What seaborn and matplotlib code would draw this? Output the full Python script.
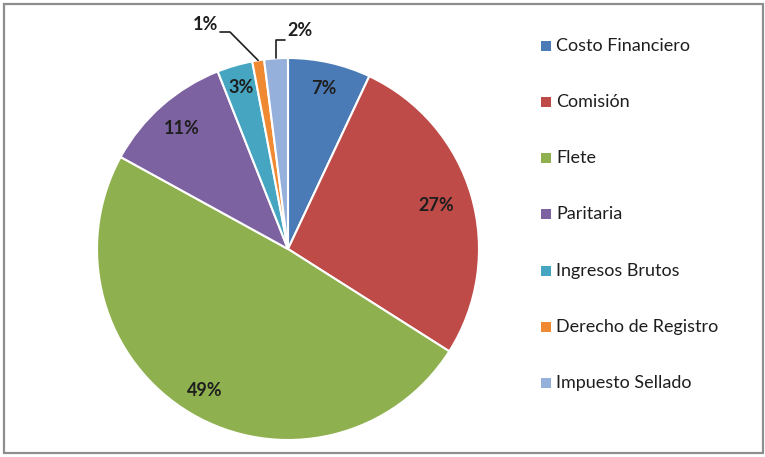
import numpy as np
import matplotlib
matplotlib.use("Agg")
import matplotlib.pyplot as plt
from matplotlib.patches import Rectangle
import seaborn as sns

# Cost breakdown shares (percent), clockwise from 12 o'clock
categories = ["Costo Financiero", "Comisión", "Flete", "Paritaria",
              "Ingresos Brutos", "Derecho de Registro", "Impuesto Sellado"]
shares = [7, 27, 49, 11, 3, 1, 2]
colors = ["#4A7BB7", "#BE4B48", "#8EB04F", "#7C62A0",
          "#46A5C0", "#F08A32", "#95B1DB"]
pct_labels = [f"{v}%" for v in shares]

sns.set_theme(style="white")
plt.rcParams["font.family"] = ["Lato", "DejaVu Sans"]

W, H = 765, 457
fig = plt.figure(figsize=(W / 100, H / 100), dpi=100)

# outer frame
fig.patches.append(Rectangle((4 / W, 4 / H), 759 / W, 449 / H,
                             transform=fig.transFigure, fill=False,
                             edgecolor="#8E8E8E", linewidth=1.6))

# pie axes: centre (288, 249) px, radius 191 px
cx, cy, r = 288, 249, 191
ax = fig.add_axes([(cx - r) / W, (H - cy - r) / H, 2 * r / W, 2 * r / H])
wedges, _ = ax.pie(shares, colors=colors, startangle=90, counterclock=False,
                   radius=1.0,
                   wedgeprops=dict(edgecolor="white", linewidth=1.5))
ax.set_xlim(-1, 1)
ax.set_ylim(-1, 1)
ax.set_aspect("equal")
ax.axis("off")

label_kw = dict(ha="center", va="center", fontsize=13, fontweight="bold",
                color="#1E1E1E")
dist = [0.86, 0.81, 0.86, 0.84, 0.88, None, None]
for w, lab, d in zip(wedges, pct_labels, dist):
    mid = np.deg2rad((w.theta1 + w.theta2) / 2)
    if d is not None:
        ax.text(d * np.cos(mid), d * np.sin(mid), lab, **label_kw)

# leader lines for the two thinnest slices
def px(x, y):
    return ((x - cx) / r, (cy - y) / r)

w_reg, w_sel = wedges[5], wedges[6]
m = np.deg2rad((w_reg.theta1 + w_reg.theta2) / 2)
edge = (np.cos(m), np.sin(m))
p1, p2 = px(230, 32), px(220, 32)
ax.plot([edge[0], p1[0], p2[0]], [edge[1], p1[1], p2[1]],
        color="#1E1E1E", lw=1.2, clip_on=False)
tx, ty = px(206, 25)
ax.text(tx, ty, pct_labels[5], clip_on=False, **label_kw)

m = np.deg2rad((w_sel.theta1 + w_sel.theta2) / 2)
edge = (np.cos(m), np.sin(m))
p1, p2 = px(275, 40), px(285, 40)
ax.plot([edge[0], edge[0], p2[0]], [edge[1], p1[1], p2[1]],
        color="#1E1E1E", lw=1.2, clip_on=False)
tx, ty = px(300, 31)
ax.text(tx, ty, pct_labels[6], clip_on=False, **label_kw)

# legend column
row_y = [46, 102, 158, 214, 271, 327, 383]
for name, col, y in zip(categories, colors, row_y):
    fig.patches.append(Rectangle((541 / W, (H - y - 5) / H), 10 / W, 10 / H,
                                 transform=fig.transFigure, facecolor=col,
                                 edgecolor="none"))
    fig.text(556 / W, (H - y) / H, name, ha="left", va="center",
             fontsize=13, color="#1E1E1E")

fig.savefig("out.png", dpi=100, facecolor="white")
